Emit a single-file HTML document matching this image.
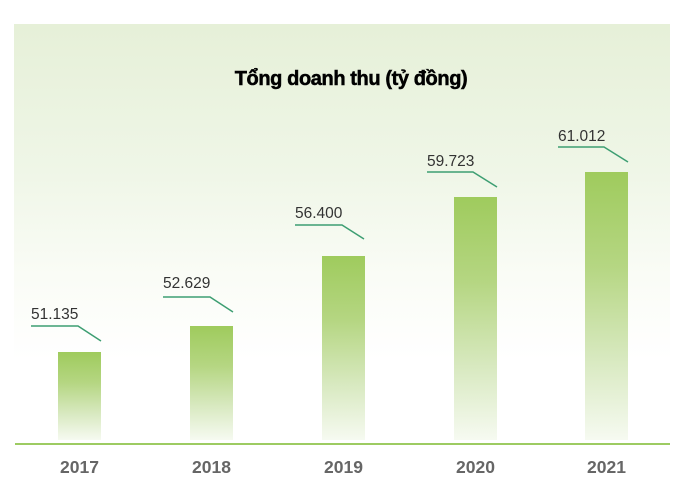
<!DOCTYPE html>
<html>
<head>
<meta charset="utf-8">
<style>
html,body{margin:0;padding:0;background:#fff;}
body{width:696px;height:486px;position:relative;overflow:hidden;}
.panel{position:absolute;left:14px;top:24px;width:656px;height:420px;
background:linear-gradient(to bottom,#e6f0d8 0%,#eff6e7 35%,#fafcf6 60%,#ffffff 80%);}
svg{position:absolute;left:0;top:0;}
</style>
</head>
<body>
<div class="panel"></div>
<svg width="696" height="486" viewBox="0 0 696 486" xmlns="http://www.w3.org/2000/svg">
<defs>
<linearGradient id="bg" x1="0" y1="0" x2="0" y2="1">
<stop offset="0" stop-color="#9fcb5d"/>
<stop offset="0.35" stop-color="#b5d682"/>
<stop offset="0.7" stop-color="#d8e9c0"/>
<stop offset="1" stop-color="#f6faf1"/>
</linearGradient>
</defs>
<text x="351" y="85" text-anchor="middle" font-family="Liberation Sans, DejaVu Sans, sans-serif" font-weight="bold" font-size="20" letter-spacing="-0.4" fill="#000" stroke="#000" stroke-width="0.5">Tổng doanh thu (tỷ đồng)</text>

<rect x="58" y="352" width="43" height="88" fill="url(#bg)"/>
<rect x="190" y="326" width="43" height="114" fill="url(#bg)"/>
<rect x="322" y="256" width="43" height="184" fill="url(#bg)"/>
<rect x="454" y="197" width="43" height="243" fill="url(#bg)"/>
<rect x="585" y="172" width="43" height="268" fill="url(#bg)"/>

<line x1="15" y1="444" x2="670" y2="444" stroke="#9dcb62" stroke-width="2"/>

<g fill="none" stroke="#3d9e72" stroke-width="1.5">
<polyline points="31,326 78,326 101,341"/>
<polyline points="163,297 210,297 233,312"/>
<polyline points="295,225 342,225 364,239"/>
<polyline points="427,172 473,172 497,187"/>
<polyline points="558,147 604,147 628,162"/>
</g>

<g font-family="Liberation Sans, DejaVu Sans, sans-serif" font-size="15.5" fill="#333">
<text x="31" y="319">51.135</text>
<text x="163" y="288">52.629</text>
<text x="295" y="218">56.400</text>
<text x="427" y="166">59.723</text>
<text x="558" y="141">61.012</text>
</g>

<g font-family="Liberation Sans, DejaVu Sans, sans-serif" font-size="17.5" font-weight="bold" fill="#666" text-anchor="middle">
<text x="79.5" y="473">2017</text>
<text x="211.5" y="473">2018</text>
<text x="343.5" y="473">2019</text>
<text x="475.5" y="473">2020</text>
<text x="606.5" y="473">2021</text>
</g>
</svg>
</body>
</html>
